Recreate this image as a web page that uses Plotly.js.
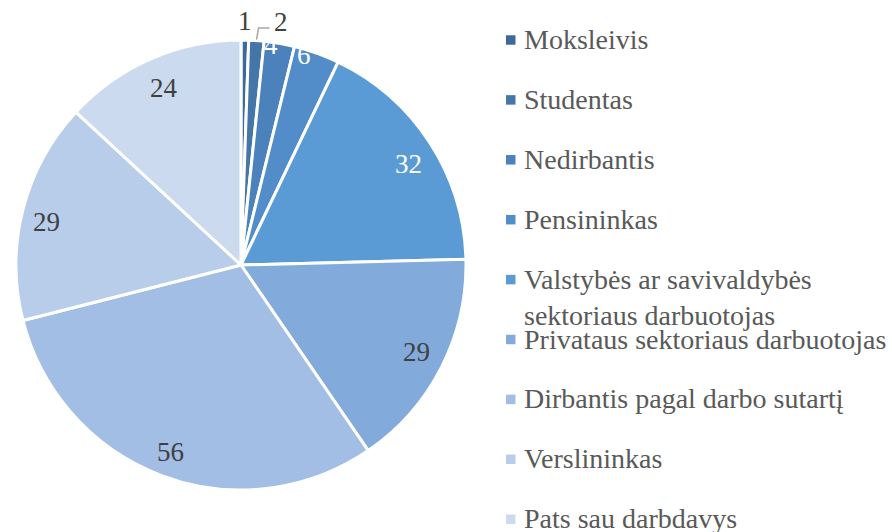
<!DOCTYPE html>
<html>
<head>
<meta charset="utf-8">
<script src="https://cdn.plot.ly/plotly-3.0.1.min.js"></script>
<style>
html,body{margin:0;padding:0;background:#fff;}
#probe{position:absolute;left:4px;top:500px;font-family:'Liberation Serif';font-size:28px;color:#fff;z-index:0;}
#chart{position:absolute;left:0;top:0;width:892px;height:532px;z-index:1;}
#chart text{font-family:'Liberation Serif','Times New Roman',serif !important;}
</style>
</head>
<body>
<div id="probe">Moksleivis 0123456789</div>
<div id="chart"></div>
<script>
// ---- data ----
const categories = [
  "Moksleivis",
  "Studentas",
  "Nedirbantis",
  "Pensininkas",
  "Valstybės ar savivaldybės sektoriaus darbuotojas",
  "Privataus sektoriaus darbuotojas",
  "Dirbantis pagal darbo sutartį",
  "Verslininkas",
  "Pats sau darbdavys"
];
const counts = [1, 2, 4, 6, 32, 29, 56, 29, 24];

// ---- style ----
const sliceColors = ["#3d6a99", "#4576a8", "#4c82bc", "#528dc9", "#5b9bd5",
                     "#82abdc", "#a2bee4", "#b8cdea", "#cbdaee"];
const labelColors = ["#404040", "#404040", "#ffffff", "#ffffff", "#ffffff",
                     "#404040", "#404040", "#404040", "#404040"];
const labelRadius = [1.085, 1.09, 0.985, 0.975, 0.87, 0.87, 0.89, 0.885, 0.86];
const labelAngleFrac = [0.5, 0.5, 0.25, 0.25, 0.53, 0.49, 0.5, 0.47, 0.5];
const FONT = "Liberation Serif";
const W = 892, H = 532;
const CX = 241, CY = 265, R = 225;

function px2x(px) { return px / W; }
function px2y(py) { return 1 - py / H; }

const total = counts.reduce((a, b) => a + b, 0);
const annotations = [];
const shapes = [];

let cum = 0;
counts.forEach((v, i) => {
  const a0 = cum / total * 2 * Math.PI;
  const a1 = (cum + v) / total * 2 * Math.PI;
  cum += v;
  const am = a0 + (a1 - a0) * labelAngleFrac[i];
  const r = R * labelRadius[i];
  const lx = CX + r * Math.sin(am);
  const ly = CY - r * Math.cos(am);
  if (i === 1) {
    // leader line for the small outside label
    const amid = (a0 + a1) / 2;
    const sx = CX + (R + 1) * Math.sin(amid);
    const sy = CY - (R + 1) * Math.cos(amid);
    const ey = 28;
    shapes.push({type: "path", xref: "paper", yref: "paper",
      path: `M ${px2x(sx)} ${px2y(sy)} L ${px2x(sx + 2)} ${px2y(ey)} L ${px2x(sx + 13)} ${px2y(ey)}`,
      line: {color: "#a6a6a6", width: 1.5}});
    annotations.push({xref: "paper", yref: "paper", x: px2x(sx + 15), y: px2y(22),
      xanchor: "left", yanchor: "middle", showarrow: false, text: String(v),
      font: {family: FONT, size: 27, color: labelColors[i]}});
    return;
  }
  annotations.push({xref: "paper", yref: "paper", x: px2x(lx), y: px2y(ly),
    xanchor: "center", yanchor: "middle", showarrow: false, text: String(v),
    font: {family: FONT, size: 27, color: labelColors[i]}});
});

// legend (drawn as annotations + squares)
function wrap(s, maxLen, breakAt) {
  if (s.length <= maxLen) return [s];
  const words = s.split(" ");
  const lines = []; let cur = "";
  words.forEach(w => {
    if ((cur + " " + w).trim().length > breakAt && cur) { lines.push(cur); cur = w; }
    else cur = (cur + " " + w).trim();
  });
  lines.push(cur);
  return lines;
}
const LEG_Y0 = 40, LEG_DY = 59.9, LEG_SQ_X = 506, LEG_SQ = 9.5, LEG_TX = 522;
categories.forEach((c, i) => {
  const yc = LEG_Y0 + i * LEG_DY;
  shapes.push({type: "rect", xref: "paper", yref: "paper",
    x0: px2x(LEG_SQ_X), x1: px2x(LEG_SQ_X + LEG_SQ),
    y0: px2y(yc - LEG_SQ / 2), y1: px2y(yc + LEG_SQ / 2),
    fillcolor: sliceColors[i], line: {width: 0}});
  const lines = wrap(c, 36, 26);
  annotations.push({xref: "paper", yref: "paper", x: px2x(LEG_TX), y: px2y(yc),
    xanchor: "left", yanchor: "top", yshift: 18, showarrow: false, align: "left",
    text: lines.join("<br>"),
    font: {family: FONT, size: 28, color: "#595959"}});
});

const trace = {
  type: "pie",
  values: counts,
  labels: categories,
  sort: false,
  direction: "clockwise",
  rotation: 0,
  textinfo: "none",
  hoverinfo: "label+value",
  marker: {colors: sliceColors, line: {color: "#ffffff", width: 3}},
  domain: {x: [px2x(CX - R), px2x(CX + R)], y: [px2y(CY + R), px2y(CY - R)]},
  showlegend: false
};

const layout = {
  width: W, height: H,
  margin: {l: 0, r: 0, t: 0, b: 0},
  paper_bgcolor: "#ffffff",
  showlegend: false,
  annotations: annotations,
  shapes: shapes
};

function draw() {
  Plotly.react("chart", [trace], layout, {staticPlot: true});
}
draw();
if (document.fonts && document.fonts.load) {
  document.fonts.load('28px "Liberation Serif"').then(draw).catch(function () {});
}
window.addEventListener("load", draw);
</script>
</body>
</html>
